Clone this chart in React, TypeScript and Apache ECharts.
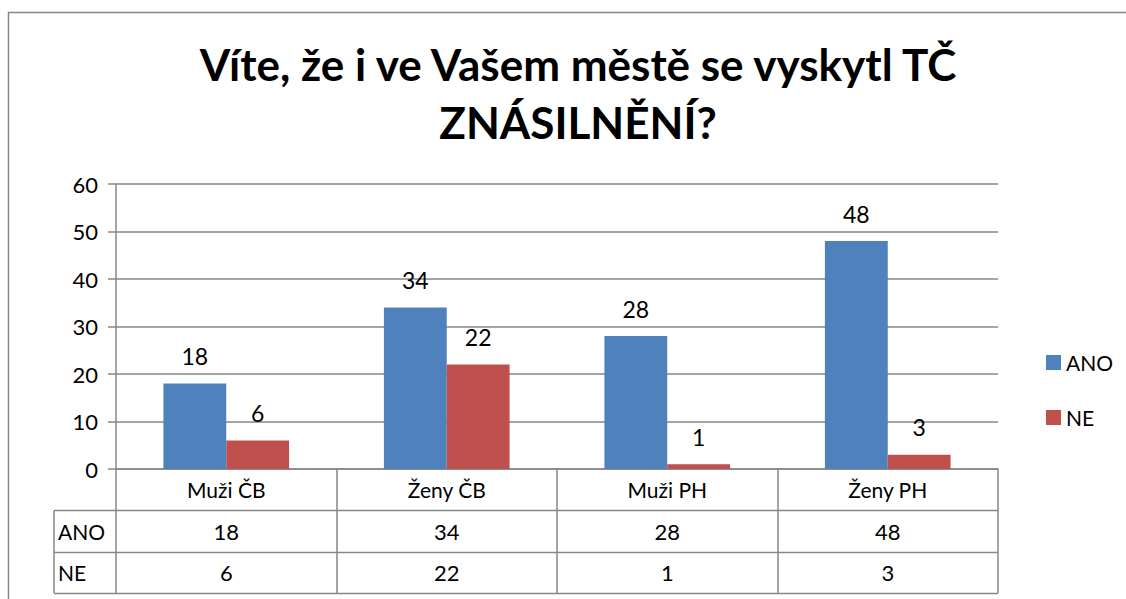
import React, { useEffect, useRef } from "react";
import * as echarts from "echarts";

const categories = ["Muži ČB", "Ženy ČB", "Muži PH", "Ženy PH"];
const seriesNames = ["ANO", "NE"];
const anoValues = [18, 34, 28, 48];
const neValues = [6, 22, 1, 3];
const yMin = 0;
const yMax = 60;
const yInterval = 10;
const titleText = "Víte, že i ve Vašem městě se vyskytl TČ\nZNÁSILNĚNÍ?";

const W = 1126;
const H = 599;
const gridLeft = 116;
const gridRight = 998;
const gridTop = 184;
const gridBottom = 469;
const rowH = 41.4;
const tableLeft = 54;
const FONT = "Lato, 'Noto Sans', sans-serif";
const LINE = "#878787";

export default function App() {
  const ref = useRef<HTMLDivElement>(null);
  useEffect(() => {
    if (!ref.current) return;
    const chart = echarts.init(ref.current, null, { renderer: "svg" });
    const catW = (gridRight - gridLeft) / categories.length;
    const rows = [anoValues, neValues];
    const graphic: any[] = [
      {
        type: "rect",
        shape: { x: 8.5, y: 12.5, width: 1300, height: 800 },
        style: { fill: "none", stroke: LINE, lineWidth: 1.5 },
        silent: true,
      },
    ];
    for (let k = 1; k <= 3; k++) {
      const y = Math.round(gridBottom + rowH * k) + 0.5;
      graphic.push({
        type: "line",
        shape: { x1: tableLeft, y1: y, x2: gridRight, y2: y },
        style: { stroke: LINE, lineWidth: 1.5 },
      });
    }
    graphic.push({
      type: "line",
      shape: { x1: tableLeft, y1: gridBottom + rowH, x2: tableLeft, y2: gridBottom + rowH * 3 },
      style: { stroke: LINE, lineWidth: 1.5 },
    });
    rows.forEach((vals, r) => {
      const cy = gridBottom + rowH * (r + 1.5);
      graphic.push({
        type: "text",
        x: tableLeft + 4,
        y: cy,
        style: { text: seriesNames[r], font: `21px ${FONT}`, fill: "#000", textVerticalAlign: "middle" },
      });
      vals.forEach((v, i) => {
        graphic.push({
          type: "text",
          x: gridLeft + catW * (i + 0.5),
          y: cy,
          style: {
            text: String(v),
            font: `22px ${FONT}`,
            fill: "#000",
            textAlign: "center",
            textVerticalAlign: "middle",
          },
        });
      });
    });

    chart.setOption({
      animation: false,
      backgroundColor: "#fff",
      title: {
        text: titleText,
        left: 573,
        textAlign: "center",
        top: 30,
        textStyle: { fontFamily: FONT, fontWeight: "bold", fontSize: 44, lineHeight: 58, color: "#000" },
      },
      legend: {
        orient: "vertical",
        left: 1041,
        top: 347,
        itemWidth: 15,
        itemHeight: 15,
        itemGap: 34,
        icon: "rect",
        data: seriesNames,
        textStyle: { fontFamily: FONT, fontSize: 21, color: "#000" },
      },
      grid: {
        left: gridLeft,
        right: W - gridRight,
        top: gridTop,
        bottom: H - gridBottom,
        containLabel: false,
      },
      xAxis: {
        type: "category",
        data: categories,
        axisLine: { show: true, lineStyle: { color: LINE, width: 1.5 } },
        axisTick: { show: true, length: Math.round(rowH * 3), lineStyle: { color: LINE, width: 1.5 } },
        axisLabel: { interval: 0, margin: 10, fontFamily: FONT, fontSize: 21, color: "#000" },
      },
      yAxis: {
        type: "value",
        min: yMin,
        max: yMax,
        interval: yInterval,
        axisLine: { show: true, lineStyle: { color: LINE, width: 1.5 } },
        axisTick: { show: true, length: 8, lineStyle: { color: LINE, width: 1.5 } },
        axisLabel: { margin: 18, fontFamily: FONT, fontSize: 22, color: "#000" },
        splitLine: { show: true, lineStyle: { color: LINE, width: 1.5 } },
      },
      series: [
        {
          name: seriesNames[0],
          type: "bar",
          data: anoValues,
          barGap: "0%",
          barCategoryGap: "43%",
          itemStyle: { color: "#4F81BD" },
          label: { show: true, position: "top", distance: 16, fontFamily: FONT, fontSize: 23, color: "#000" },
        },
        {
          name: seriesNames[1],
          type: "bar",
          data: neValues,
          barGap: "0%",
          barCategoryGap: "43%",
          itemStyle: { color: "#C0504D" },
          label: { show: true, position: "top", distance: 16, fontFamily: FONT, fontSize: 23, color: "#000" },
        },
      ],
      graphic,
    });
    return () => chart.dispose();
  }, []);
  return <div ref={ref} style={{ position: "absolute", left: 0, top: 0, width: W, height: H }} />;
}
